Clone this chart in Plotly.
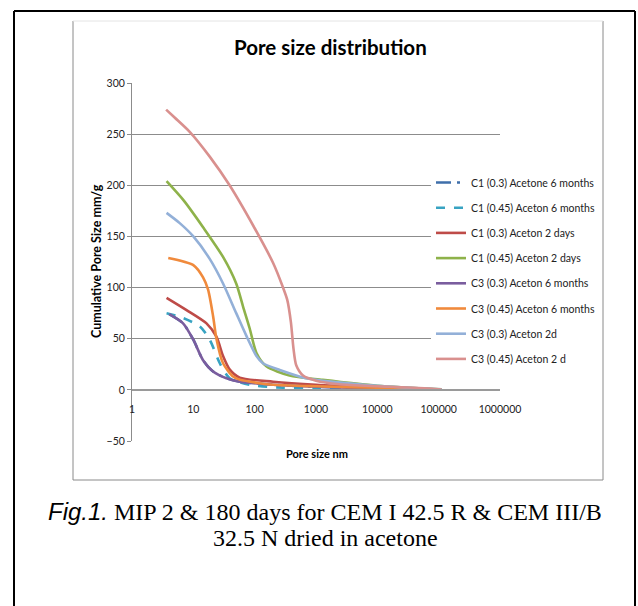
import plotly.graph_objects as go

# ---------------- data ----------------
series_names = [
    "C1 (0.3) Acetone 6 months",
    "C1 (0.45) Aceton 6 months",
    "C1 (0.3) Aceton 2 days",
    "C1 (0.45) Aceton 2 days",
    "C3 (0.3) Aceton 6 months",
    "C3 (0.45) Aceton 6 months",
    "C3 (0.3) Aceton 2d",
    "C3 (0.45) Aceton 2 d",
]

c1_03_6m_x = [4.05, 6.8, 10, 14.4, 21, 34.7, 57, 200, 1000, 10000, 110000]
c1_03_6m_y = [74, 65, 49, 29, 18, 11.4, 8, 5, 3, 1.5, 0.3]

c1_045_6m_x = [3.66, 6, 12.8, 18.5, 27, 39, 83, 290, 1000, 10000, 110000]
c1_045_6m_y = [75, 71.5, 62, 49, 26, 11.4, 5, 2, 1.5, 1, 0.2]

c1_03_2d_x = [3.66, 7.75, 16.4, 23.8, 30.5, 39, 57, 200, 1000, 10000, 110000]
c1_03_2d_y = [90, 78, 65, 52, 33, 20, 12, 8, 5, 2.5, 0.3]

c1_045_2d_x = [3.66, 7, 14.4, 30.5, 50, 65, 83, 107, 155, 370, 1290, 10000, 110000]
c1_045_2d_y = [204, 185, 159, 130, 104, 81, 60, 36, 23, 14, 9.8, 4, 0.5]

c3_03_6m_x = [4.05, 6.8, 10, 14.4, 21, 34.7, 57, 200, 1000, 10000, 110000]
c3_03_6m_y = [74, 65, 49, 29, 18, 11.4, 8, 5, 3, 1.5, 0.3]

c3_045_6m_x = [3.9, 10, 14.4, 17.4, 21, 23.8, 30.5, 44.5, 57, 120, 200, 1000, 10000, 110000]
c3_045_6m_y = [129, 122, 110, 98, 72, 50, 26, 13, 10, 6.5, 5, 3.5, 2, 0.3]

c3_03_2d_x = [3.66, 6, 10, 18.5, 30.5, 50, 73, 107, 136, 256, 690, 10000, 110000]
c3_03_2d_y = [173, 163, 150, 128, 104, 75, 53, 33, 26, 19.5, 11.4, 4, 0.5]

c3_045_2d_x = [3.6, 5, 8.8, 18.5, 39, 100, 200, 290, 340, 390, 430, 476, 615, 1000, 2400, 10000, 40000, 110000]
c3_045_2d_y = [274, 266, 252, 228, 200, 158, 124, 100, 88, 66, 40, 24, 14, 9, 5.5, 3.5, 2, 0.3]

x_tickvals = [1, 10, 100, 1000, 10000, 100000, 1000000]
x_ticktext = ["1", "10", "100", "1000", "10000", "100000", "1000000"]
y_tickvals = [-50, 0, 50, 100, 150, 200, 250, 300]

series_x = [c1_03_6m_x, c1_045_6m_x, c1_03_2d_x, c1_045_2d_x,
            c3_03_6m_x, c3_045_6m_x, c3_03_2d_x, c3_045_2d_x]
series_y = [c1_03_6m_y, c1_045_6m_y, c1_03_2d_y, c1_045_2d_y,
            c3_03_6m_y, c3_045_6m_y, c3_03_2d_y, c3_045_2d_y]

# ---------------- styles ----------------
colors = ["#3F6FAA", "#38A3C2", "#BE4B48", "#8EB24A",
          "#7A5D9E", "#F08A3C", "#93B0D8", "#D9908E"]
dashes = ["longdashdot", "dash", "solid", "solid", "solid", "solid", "solid", "solid"]

W, H = 638, 606
L, R, T, B = 132, 500, 83, 441  # plot area in px


def px_x(p):
    return (p - L) / (R - L)


def px_y(p):
    return (B - p) / (B - T)


fig = go.Figure()
for i, name in enumerate(series_names):
    fig.add_trace(go.Scatter(
        x=series_x[i], y=series_y[i], name=name, mode="lines",
        line=dict(color=colors[i], width=2.6, dash=dashes[i], shape="spline", smoothing=0.7),
        legendgroup=f"g{i}",
    ))

axis_font = dict(family="Lato, Open Sans, sans-serif", size=10.5, color="#222")

fig.update_layout(
    width=W, height=H,
    margin=dict(l=L, r=W - R, t=T, b=H - B, autoexpand=False),
    paper_bgcolor="white", plot_bgcolor="white",
    showlegend=True,
    legend=dict(
        x=px_x(431), y=px_y(168), xanchor="left", yanchor="top",
        bgcolor="white", font=dict(family="Lato, Open Sans, sans-serif", size=10.5, color="#222"),
        tracegroupgap=6.2, itemwidth=30,
    ),
    xaxis=dict(
        type="log", range=[0, 6], tickvals=x_tickvals, ticktext=x_ticktext,
        showgrid=False, zeroline=False, showline=True, linecolor="#9A9A9A", linewidth=1.5,
        anchor="free", position=50 / 350, ticks="", tickfont=axis_font, ticklabelstandoff=10,
    ),
    yaxis=dict(
        range=[-50, 300], tickvals=y_tickvals, showgrid=True, gridcolor="#8C8C8C", gridwidth=1,
        zeroline=False, showline=True, linecolor="#8C8C8C", linewidth=1,
        ticks="outside", ticklen=4, tickcolor="#8C8C8C", tickfont=axis_font,
    ),
)

shapes = []
# outer frame (bottom cut off)
ob = dict(type="line", xref="paper", yref="paper", line=dict(color="black", width=2))
shapes.append({**ob, "x0": px_x(14), "x1": px_x(14), "y0": px_y(11), "y1": px_y(620)})
shapes.append({**ob, "x0": px_x(635), "x1": px_x(635), "y0": px_y(11), "y1": px_y(620)})
shapes.append({**ob, "x0": px_x(14), "x1": px_x(635), "y0": px_y(11), "y1": px_y(11)})
# inner chart box
ib = dict(type="line", xref="paper", yref="paper", line=dict(color="#8A8A8A", width=1))
shapes.append({**ib, "x0": px_x(73), "x1": px_x(73), "y0": px_y(21), "y1": px_y(480)})
shapes.append({**ib, "x0": px_x(603), "x1": px_x(603), "y0": px_y(21), "y1": px_y(480)})
shapes.append({**ib, "x0": px_x(73), "x1": px_x(603), "y0": px_y(480), "y1": px_y(480)})
shapes.append(dict(type="line", xref="paper", yref="paper", line=dict(color="#E4E4E4", width=1),
                   x0=px_x(73), x1=px_x(603), y0=px_y(21), y1=px_y(21)))
fig.update_layout(shapes=shapes)

ann = []
ann.append(dict(text="<b>Pore size distribution</b>", x=px_x(330), y=px_y(47),
                font=dict(family="Lato, Open Sans, sans-serif", size=20.5, color="black")))
ann.append(dict(text="<b>Cumulative Pore Size mm/g</b>", x=px_x(96), y=px_y(261), textangle=-90,
                font=dict(family="Lato, Open Sans, sans-serif", size=12.5, color="black")))
ann.append(dict(text="<b>Pore size nm</b>", x=px_x(317), y=px_y(453),
                font=dict(family="Lato, Open Sans, sans-serif", size=11, color="black")))
ann.append(dict(text='<span style="font-family:Liberation Sans, Arial"><i>Fig.1.</i></span> MIP 2 &amp; 180 days for CEM I 42.5 R &amp; CEM III/B',
                x=px_x(325), y=px_y(511),
                font=dict(family="Liberation Serif, Times New Roman, serif", size=24, color="black")))
ann.append(dict(text="32.5 N dried in acetone", x=px_x(325), y=px_y(538),
                font=dict(family="Liberation Serif, Times New Roman, serif", size=24, color="black")))
for a in ann:
    a.update(xref="paper", yref="paper", showarrow=False, xanchor="center", yanchor="middle")
fig.update_layout(annotations=ann)

fig.write_html("out.html", config={"displayModeBar": False},
               post_script="document.body.style.margin='0px';")
